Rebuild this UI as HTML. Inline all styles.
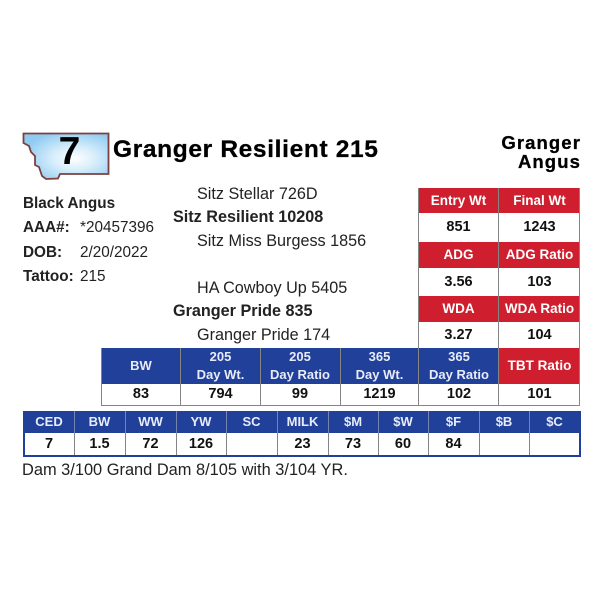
<!DOCTYPE html>
<html><head><meta charset="utf-8">
<style>
html,body{margin:0;padding:0;background:#fff}
#p{position:relative;width:600px;height:600px;overflow:hidden;background:#fff;font-family:"Liberation Sans",sans-serif;color:#222}
#p div{position:absolute;white-space:nowrap}
.t{font-size:15.3px;line-height:18px}
.g{font-size:16.2px;line-height:18px}
.b{font-weight:bold}
.r{background:#cf1f2e;color:#fff;font-weight:bold;font-size:13.5px;text-align:center}
.h{background:#21409a;color:#e8ecf8;font-weight:bold;font-size:13px;text-align:center;line-height:18px}
.v{font-weight:bold;font-size:14.5px;text-align:center;color:#111}
.l{background:#858585}
.s{background:#7484b0}
</style></head><body><div id="p">
<svg style="position:absolute;left:0;top:0" width="600" height="600">
<defs><radialGradient id="g" cx="0.6" cy="0.55" r="0.62"><stop offset="0" stop-color="#fff"/><stop offset="0.4" stop-color="#d8eefb"/><stop offset="1" stop-color="#8fcbf1"/></radialGradient></defs>
<path d="M23.5 133.5 L108.5 133.5 L108.5 174 L60 174 L58 178.5 L46 179 L42 176 L39 167 L35 165 L35 156 L31 152 L29 146 L23.5 143 Z" fill="url(#g)" stroke="#7d4040" stroke-width="1.8"/>
</svg>
<div class="b" style="left:48px;top:129px;width:43px;text-align:center;font-size:39px;line-height:46px;color:#000">7</div>
<div class="b" style="left:113px;top:135px;font-size:24.5px;line-height:30px;color:#000;letter-spacing:.65px;-webkit-text-stroke:.3px #000">Granger Resilient 215</div>
<div class="b" style="right:19px;top:134px;text-align:right;font-size:18.5px;line-height:18.5px;color:#000;letter-spacing:1.1px;-webkit-text-stroke:.3px #000">Granger<br>Angus</div>

<div class="t b" style="left:23px;top:195px">Black Angus</div>
<div class="t b" style="left:23px;top:219px">AAA#:</div>
<div class="t" style="left:80px;top:219px">*20457396</div>
<div class="t b" style="left:23px;top:244px">DOB:</div>
<div class="t" style="left:80px;top:244px">2/20/2022</div>
<div class="t b" style="left:23px;top:268px">Tattoo:</div>
<div class="t" style="left:80px;top:268px">215</div>

<div class="g" style="left:197px;top:185px">Sitz Stellar 726D</div>
<div class="g b" style="left:173px;top:208px">Sitz Resilient 10208</div>
<div class="g" style="left:197px;top:232px">Sitz Miss Burgess 1856</div>
<div class="g" style="left:197px;top:279px">HA Cowboy Up 5405</div>
<div class="g b" style="left:173px;top:302px">Granger Pride 835</div>
<div class="g" style="left:197px;top:326px">Granger Pride 174</div>

<div class="r" style="left:418px;top:188px;width:81px;height:25px;line-height:25px">Entry Wt</div>
<div class="r" style="left:499px;top:188px;width:81px;height:25px;line-height:25px">Final Wt</div>
<div class="v" style="left:418px;top:213px;width:81px;height:29px;line-height:29px">851</div>
<div class="v" style="left:499px;top:213px;width:81px;height:29px;line-height:29px">1243</div>
<div class="r" style="left:418px;top:242px;width:81px;height:26px;line-height:26px">ADG</div>
<div class="r" style="left:499px;top:242px;width:81px;height:26px;line-height:26px">ADG Ratio</div>
<div class="v" style="left:418px;top:268px;width:81px;height:28px;line-height:28px">3.56</div>
<div class="v" style="left:499px;top:268px;width:81px;height:28px;line-height:28px">103</div>
<div class="r" style="left:418px;top:296px;width:81px;height:26px;line-height:26px">WDA</div>
<div class="r" style="left:499px;top:296px;width:81px;height:26px;line-height:26px">WDA Ratio</div>
<div class="v" style="left:418px;top:322px;width:81px;height:26px;line-height:26px">3.27</div>
<div class="v" style="left:499px;top:322px;width:81px;height:26px;line-height:26px">104</div>

<div class="h" style="left:101px;top:348px;width:80px;height:36px;line-height:36px">BW</div>
<div class="h" style="left:181px;top:348px;width:79px;height:36px">205<br>Day Wt.</div>
<div class="h" style="left:260px;top:348px;width:80px;height:36px">205<br>Day Ratio</div>
<div class="h" style="left:340px;top:348px;width:79px;height:36px">365<br>Day Wt.</div>
<div class="h" style="left:419px;top:348px;width:80px;height:36px">365<br>Day Ratio</div>
<div class="r" style="left:499px;top:348px;width:81px;height:36px;line-height:36px">TBT Ratio</div>
<div class="v" style="left:101px;top:384px;width:80px;line-height:21px">83</div>
<div class="v" style="left:181px;top:384px;width:79px;line-height:21px">794</div>
<div class="v" style="left:260px;top:384px;width:80px;line-height:21px">99</div>
<div class="v" style="left:340px;top:384px;width:79px;line-height:21px">1219</div>
<div class="v" style="left:419px;top:384px;width:80px;line-height:21px">102</div>
<div class="v" style="left:499px;top:384px;width:81px;line-height:21px">101</div>

<div class="l" style="left:418px;top:188px;width:1px;height:160px"></div>
<div class="l" style="left:498px;top:188px;width:1px;height:217px"></div>
<div class="l" style="left:579px;top:188px;width:1px;height:217px"></div>
<div class="l" style="left:101px;top:348px;width:1px;height:57px"></div>
<div class="l" style="left:180px;top:348px;width:1px;height:57px"></div>
<div class="l" style="left:260px;top:348px;width:1px;height:57px"></div>
<div class="l" style="left:340px;top:348px;width:1px;height:57px"></div>
<div class="l" style="left:418px;top:348px;width:1px;height:57px"></div>
<div class="l" style="left:101px;top:405px;width:479px;height:1px"></div>

<div style="left:23px;top:411px;width:558px;height:46px;background:#21409a"></div>
<div style="left:25px;top:433px;width:554px;height:22px;background:#fff"></div>
<div class="h" style="left:24px;top:411px;width:50px;line-height:22px">CED</div>
<div class="h" style="left:74px;top:411px;width:51px;line-height:22px">BW</div>
<div class="h" style="left:125px;top:411px;width:51px;line-height:22px">WW</div>
<div class="h" style="left:176px;top:411px;width:50px;line-height:22px">YW</div>
<div class="h" style="left:226px;top:411px;width:51px;line-height:22px">SC</div>
<div class="h" style="left:277px;top:411px;width:51px;line-height:22px">MILK</div>
<div class="h" style="left:328px;top:411px;width:50px;line-height:22px">$M</div>
<div class="h" style="left:378px;top:411px;width:50px;line-height:22px">$W</div>
<div class="h" style="left:428px;top:411px;width:51px;line-height:22px">$F</div>
<div class="h" style="left:479px;top:411px;width:50px;line-height:22px">$B</div>
<div class="h" style="left:529px;top:411px;width:51px;line-height:22px">$C</div>
<div class="v" style="left:24px;top:433px;width:50px;line-height:22px">7</div>
<div class="v" style="left:74px;top:433px;width:51px;line-height:22px">1.5</div>
<div class="v" style="left:125px;top:433px;width:51px;line-height:22px">72</div>
<div class="v" style="left:176px;top:433px;width:50px;line-height:22px">126</div>
<div class="v" style="left:277px;top:433px;width:51px;line-height:22px">23</div>
<div class="v" style="left:328px;top:433px;width:50px;line-height:22px">73</div>
<div class="v" style="left:378px;top:433px;width:50px;line-height:22px">60</div>
<div class="v" style="left:428px;top:433px;width:51px;line-height:22px">84</div>
<div class="s" style="left:74px;top:411px;width:1px;height:22px"></div>
<div class="s" style="left:125px;top:411px;width:1px;height:22px"></div>
<div class="s" style="left:176px;top:411px;width:1px;height:22px"></div>
<div class="s" style="left:226px;top:411px;width:1px;height:22px"></div>
<div class="s" style="left:277px;top:411px;width:1px;height:22px"></div>
<div class="s" style="left:328px;top:411px;width:1px;height:22px"></div>
<div class="s" style="left:378px;top:411px;width:1px;height:22px"></div>
<div class="s" style="left:428px;top:411px;width:1px;height:22px"></div>
<div class="s" style="left:479px;top:411px;width:1px;height:22px"></div>
<div class="s" style="left:529px;top:411px;width:1px;height:22px"></div>
<div class="l" style="left:74px;top:433px;width:1px;height:22px"></div>
<div class="l" style="left:125px;top:433px;width:1px;height:22px"></div>
<div class="l" style="left:176px;top:433px;width:1px;height:22px"></div>
<div class="l" style="left:226px;top:433px;width:1px;height:22px"></div>
<div class="l" style="left:277px;top:433px;width:1px;height:22px"></div>
<div class="l" style="left:328px;top:433px;width:1px;height:22px"></div>
<div class="l" style="left:378px;top:433px;width:1px;height:22px"></div>
<div class="l" style="left:428px;top:433px;width:1px;height:22px"></div>
<div class="l" style="left:479px;top:433px;width:1px;height:22px"></div>
<div class="l" style="left:529px;top:433px;width:1px;height:22px"></div>

<div class="g" style="left:22px;top:461px;font-size:16.4px">Dam 3/100 Grand Dam 8/105 with 3/104 YR.</div>
</div></body></html>
